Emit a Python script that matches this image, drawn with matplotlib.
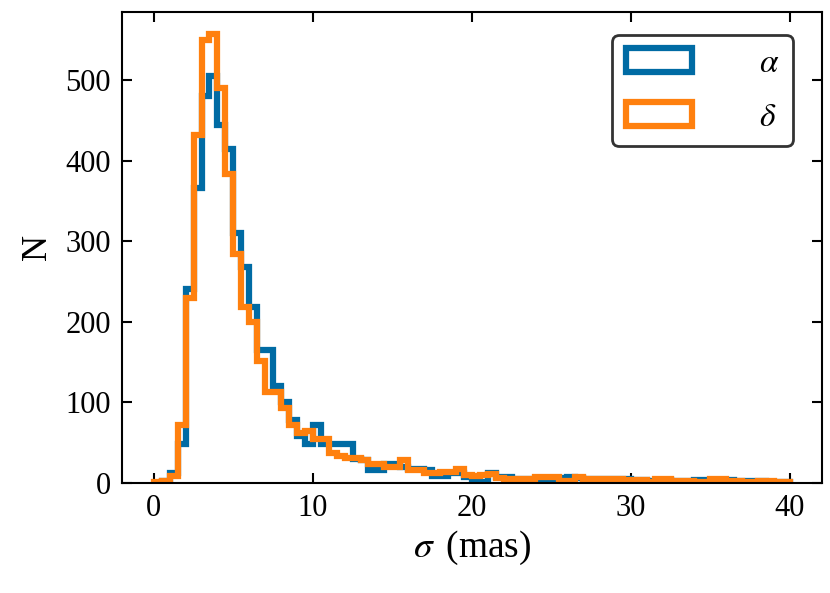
import numpy as np
import matplotlib
matplotlib.use("Agg")
import matplotlib.pyplot as plt

# bin setup
bin_width = 0.5
x_min, x_max = 0.0, 40.0

# counts per 0.5-mas bin, from 0 to 40 mas
alpha_counts = [
    0, 3, 12, 48, 241, 366, 481, 505, 444, 415,
    311, 268, 218, 165, 165, 121, 101, 78, 58, 49,
    72, 48, 48, 48, 48, 30, 28, 16, 16, 24,
    24, 20, 18, 18, 16, 9, 9, 12, 12, 8,
    1, 1, 12, 8, 8, 5, 5, 5, 0, 5,
    5, 6, 7, 6, 5, 5, 5, 5, 5, 5,
    4, 4, 3, 3, 4, 2, 2, 2, 4, 4,
    3, 3, 4, 2, 2, 2, 2, 1, 1, 1,
]
delta_counts = [
    1, 2, 9, 72, 230, 432, 550, 557, 491, 384,
    284, 218, 200, 151, 113, 113, 93, 72, 62, 64,
    55, 55, 37, 33, 31, 31, 29, 24, 24, 20,
    20, 28, 16, 16, 13, 13, 14, 14, 18, 10,
    9, 10, 11, 6, 5, 5, 5, 5, 8, 8,
    8, 3, 3, 8, 5, 5, 5, 5, 5, 4,
    4, 4, 1, 5, 5, 3, 2, 2, 1, 1,
    5, 5, 3, 3, 1, 1, 2, 2, 1, 1,
]
labels = [r"$\alpha$", r"$\delta$"]
colors = ["#006BA4", "#FF800E"]

plt.rcParams["font.family"] = "serif"
plt.rcParams["font.serif"] = ["Liberation Serif", "DejaVu Serif"]
plt.rcParams["mathtext.fontset"] = "stix"

edges = np.arange(x_min, x_max + bin_width / 2, bin_width)
centers = 0.5 * (edges[:-1] + edges[1:])

fig = plt.figure(figsize=(8.3, 5.93), dpi=100)
ax = fig.add_axes([0.147, 0.1855, 0.843, 0.7945])

for counts, lab, col in zip([alpha_counts, delta_counts], labels, colors):
    ax.hist(centers, bins=edges, weights=counts, histtype="step",
            color=col, linewidth=4.5, label=lab)

ax.set_xlim(-2, 42)
ax.set_ylim(0, 585)
ax.set_xticks([0, 10, 20, 30, 40])
ax.set_yticks([0, 100, 200, 300, 400, 500])

ax.tick_params(direction="in", top=True, right=True, length=7.5, width=1.5,
               labelsize=22, pad=8)
for sp in ax.spines.values():
    sp.set_linewidth(1.5)

ax.set_xlabel(r"$\sigma\,$ (mas)", fontsize=27, labelpad=4)
ax.set_ylabel("N", fontsize=26, labelpad=8)

leg = ax.legend(loc="upper right", bbox_to_anchor=(0.9586, 0.951),
                borderaxespad=0, fontsize=24, handletextpad=2.0,
                labelspacing=0.7, fancybox=True, framealpha=1,
                edgecolor="#333333")
leg.get_frame().set_linewidth(2)

fig.savefig("out.png", dpi=100)
